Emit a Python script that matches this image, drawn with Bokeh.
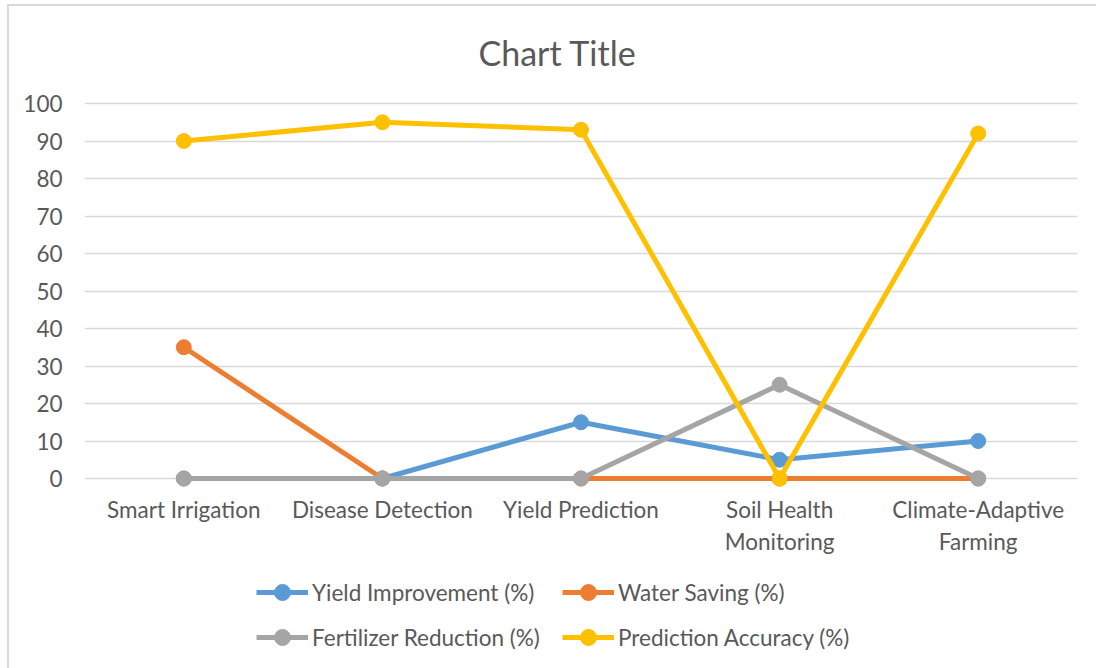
from bokeh.plotting import figure
from bokeh.layouts import column
from bokeh.models import (ColumnDataSource, FactorRange, Range1d, Legend, LegendItem,
                          SingleIntervalTicker, Title)
from bokeh.embed import file_html
from bokeh.resources import INLINE

categories = ["Smart Irrigation", "Disease Detection", "Yield Prediction",
              "Soil Health\nMonitoring", "Climate-Adaptive\nFarming"]
yield_improvement = [0, 0, 15, 5, 10]
water_saving = [35, 0, 0, 0, 0]
fertilizer_reduction = [0, 0, 0, 25, 0]
prediction_accuracy = [90, 95, 93, 0, 92]

series_names = ["Yield Improvement (%)", "Water Saving (%)",
                "Fertilizer Reduction (%)", "Prediction Accuracy (%)"]
series_keys = ["yi", "ws", "fr", "pa"]
colors = ["#5B9BD5", "#ED7D31", "#A5A5A5", "#FFC000"]
legend_order = [0, 2, 1, 3]  # column-major fill -> rows: Yield/Water, Fertilizer/Prediction

FONT = "Lato"
TXT = "#595959"
FS = "22.5px"

source = ColumnDataSource(dict(cat=categories, yi=yield_improvement, ws=water_saving,
                               fr=fertilizer_reduction, pa=prediction_accuracy))

# ---- main chart ----
p = figure(width=1096, height=560, output_backend="svg", toolbar_location=None,
           x_range=FactorRange(*categories, range_padding=0),
           y_range=Range1d(-4, 104),
           min_border_left=84, min_border_right=19, min_border_top=88,
           min_border_bottom=67,
           border_fill_alpha=0, background_fill_alpha=0)

p.title = Title(text="Chart Title", text_font=FONT, text_font_size="34px",
                text_color=TXT, text_font_style="normal", align="left", offset=394,
                standoff=31)

p.outline_line_color = None
p.xgrid.grid_line_color = None
p.ygrid.grid_line_color = "#D9D9D9"
p.ygrid.grid_line_width = 1.5

p.yaxis.ticker = SingleIntervalTicker(interval=10)
for ax in (p.xaxis[0], p.yaxis[0]):
    ax.axis_line_color = None
    ax.major_tick_line_color = None
    ax.minor_tick_line_color = None
    ax.major_tick_out = 0
    ax.major_tick_in = 0
    ax.minor_tick_out = 0
    ax.major_label_text_font = FONT
    ax.major_label_text_font_size = FS
    ax.major_label_text_color = TXT
p.yaxis.major_label_standoff = 22
p.xaxis.major_label_standoff = 2

for key, col in zip(series_keys, colors):
    p.line(x="cat", y=key, source=source, line_color=col, line_width=5,
           line_join="round")
    p.scatter(x="cat", y=key, source=source, size=15, fill_color=col,
              line_color=col)

# ---- legend strip: same series, drawn outside its (empty) view ----
lg = figure(width=1096, height=108, output_backend="svg", toolbar_location=None,
            x_range=FactorRange(*categories, range_padding=0),
            y_range=Range1d(1000, 1001),
            x_axis_location=None, y_axis_location=None,
            min_border=0, outline_line_color=None,
            border_fill_alpha=0, background_fill_alpha=0)
lg.grid.grid_line_color = None

renderers = []
for key, col in zip(series_keys, colors):
    lr = lg.line(x="cat", y=key, source=source, line_color=col, line_width=5)
    sr = lg.scatter(x="cat", y=key, source=source, size=15, fill_color=col,
                    line_color=col)
    renderers.append([lr, sr])

items = [LegendItem(label=series_names[i], renderers=renderers[i]) for i in legend_order]

legend = Legend(items=items, ncols=2, location=(172, 11),
                glyph_width=52, glyph_height=40, label_height=40,
                label_width=245, label_standoff=4, spacing=5, padding=0, margin=0,
                label_text_font=FONT, label_text_font_size=FS,
                label_text_color=TXT, border_line_color=None,
                background_fill_alpha=0)
lg.add_layout(legend, "center")

# chart-area border (top and left edges visible in the reference)
frame_css = ("linear-gradient(#D9D9D9, #D9D9D9) 7px 4px / 2px 100% no-repeat, "
             "linear-gradient(#D9D9D9, #D9D9D9) 7px 4px / 100% 2px no-repeat, #FFFFFF")
layout = column(p, lg, spacing=0, styles={"background": frame_css})
open("out.html", "w").write(file_html(layout, INLINE))
